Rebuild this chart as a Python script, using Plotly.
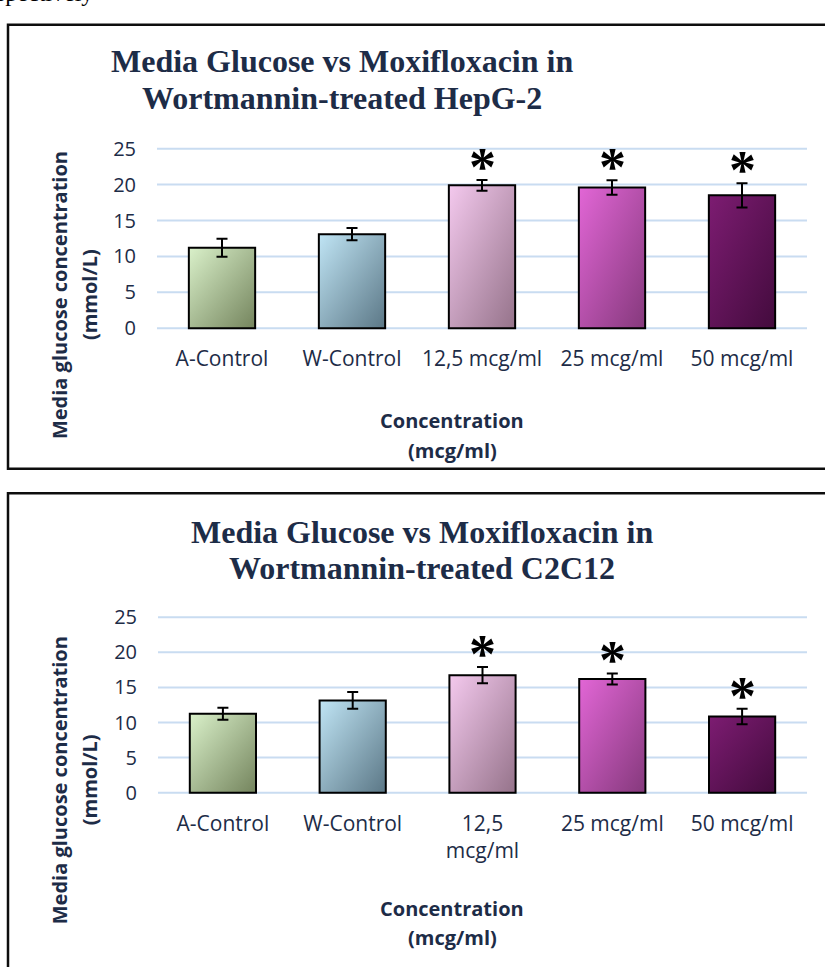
import base64
import plotly.graph_objects as go

# ---- data -----------------------------------------------------------------
categories = ["A-Control", "W-Control", "12,5 mcg/ml", "25 mcg/ml", "50 mcg/ml"]
tick_labels_hepg2 = ["A-Control", "W-Control", "12,5 mcg/ml", "25 mcg/ml", "50 mcg/ml"]
tick_labels_c2c12 = ["A-Control", "W-Control", "12,5<br>mcg/ml", "25 mcg/ml", "50 mcg/ml"]

glucose_hepg2 = [11.2, 13.1, 19.9, 19.6, 18.5]
error_hepg2 = [1.25, 0.85, 0.75, 1.0, 1.7]

glucose_c2c12 = [11.25, 13.15, 16.75, 16.2, 10.85]
error_c2c12 = [0.85, 1.2, 1.15, 0.8, 1.1]

significance_hepg2 = ["", "", "*", "*", "*"]
significance_c2c12 = ["", "", "*", "*", "*"]

y_ticks = [0, 5, 10, 15, 20, 25]

# ---- style ----------------------------------------------------------------
W, H = 825, 967
NAVY = "#1d2c47"
GRID = "#c9dcf1"
BAR_WIDTH = 0.51
Y_RANGE = [-0.3, 25.3]

# (light top-left, dark bottom-right) gradient stops per category
gradients = [
    ("#daf1ca", "#74845d"),
    ("#c0e5f5", "#5b7786"),
    ("#f4c9ee", "#95738a"),
    ("#e266d6", "#85397c"),
    ("#7d1c72", "#430b3d"),
]


def px_x(p):
    return p / W


def px_y(p):
    return 1 - p / H


def gradient_svg(c1, c2):
    svg = (
        '<svg xmlns="http://www.w3.org/2000/svg" width="100" height="100" '
        'viewBox="0 0 100 100" preserveAspectRatio="none">'
        '<defs><linearGradient id="g" x1="0" y1="0" x2="1" y2="1">'
        f'<stop offset="0" stop-color="{c1}"/><stop offset="1" stop-color="{c2}"/>'
        '</linearGradient></defs>'
        '<rect x="0" y="0" width="100" height="100" fill="url(#g)"/></svg>'
    )
    return "data:image/svg+xml;base64," + base64.b64encode(svg.encode()).decode()


def y_domain(zero_px, top_px):
    per_unit = (zero_px - top_px) / 25.0
    bottom = zero_px - Y_RANGE[0] * per_unit
    top = zero_px - Y_RANGE[1] * per_unit
    return [px_y(bottom), px_y(top)]


fig = go.Figure()

panels = [
    dict(ax="", values=glucose_hepg2, errors=error_hepg2, ticks=tick_labels_hepg2,
         stars=significance_hepg2, xdom=[px_x(157), px_x(807)], ydom=y_domain(324, 140),
         title=["Media Glucose vs Moxifloxacin in", "Wortmannin-treated HepG-2"],
         title_x=342, title_y=[50, 88], box=[8, 13, 830, 468],
         xt_y=[418, 449], yt_y=290),
    dict(ax="2", values=glucose_c2c12, errors=error_c2c12, ticks=tick_labels_c2c12,
         stars=significance_c2c12, xdom=[px_x(158), px_x(807)], ydom=y_domain(799.7, 620),
         title=["Media Glucose vs Moxifloxacin in", "Wortmannin-treated C2C12"],
         title_x=422, title_y=[533, 570], box=[8, 493, 830, 980],
         xt_y=[918, 948], yt_y=787),
]

positions = list(range(len(categories)))
shapes, images, annotations = [], [], []

for p in panels:
    xa, ya = "x" + p["ax"], "y" + p["ax"]

    # bars: outline + error bars, gradient fill comes from images underneath
    fig.add_trace(go.Bar(
        x=positions, y=p["values"], width=BAR_WIDTH, xaxis=xa, yaxis=ya,
        marker=dict(color="rgba(0,0,0,0)", line=dict(color="#000000", width=2)),
        error_y=dict(type="data", array=p["errors"], color="#000000", thickness=2, width=5.5),
        showlegend=False, hoverinfo="skip",
    ))

    for i, v in enumerate(p["values"]):
        c1, c2 = gradients[i]
        images.append(dict(
            source=gradient_svg(c1, c2), xref=xa, yref=ya,
            x=positions[i] - BAR_WIDTH / 2, y=v, sizex=BAR_WIDTH, sizey=v,
            xanchor="left", yanchor="top", sizing="stretch", layer="below",
        ))
        if p["stars"][i]:
            annotations.append(dict(
                x=positions[i], y=v + p["errors"][i], xref=xa, yref=ya,
                text=f"<b>{p['stars'][i]}</b>", showarrow=False, yanchor="middle", yshift=13,
                font=dict(family="Liberation Serif", size=54, color="#000000"),
            ))

    # horizontal gridlines
    for t in y_ticks:
        shapes.append(dict(
            type="line", xref=xa + " domain", yref=ya, x0=0, x1=1, y0=t, y1=t,
            line=dict(color=GRID, width=2), layer="below",
        ))

    # panel frame
    bx0, by0, bx1, by1 = p["box"]
    shapes.append(dict(
        type="rect", xref="paper", yref="paper",
        x0=px_x(bx0), x1=px_x(bx1), y0=px_y(by1), y1=px_y(by0),
        line=dict(color="#0d0d0d", width=2.5), layer="above",
    ))

    # chart title
    for line, ty in zip(p["title"], p["title_y"]):
        annotations.append(dict(
            x=px_x(p["title_x"]), y=px_y(ty), xref="paper", yref="paper",
            text=f"<b>{line}</b>", showarrow=False, xanchor="center", yanchor="middle",
            font=dict(family="Liberation Serif", size=32, color=NAVY),
        ))

    # x-axis title
    for line, ty in zip(["Concentration", "(mcg/ml)"], p["xt_y"]):
        annotations.append(dict(
            x=px_x(452), y=px_y(ty), xref="paper", yref="paper",
            text=f"<b>{line}</b>", showarrow=False, xanchor="center", yanchor="middle",
            font=dict(family="Open Sans", size=20, color=NAVY),
        ))

    # y-axis title
    for line, tx in zip(["Media glucose concentration", "(mmol/L)"], [59, 89]):
        annotations.append(dict(
            x=px_x(tx), y=px_y(p["yt_y"]), xref="paper", yref="paper",
            text=f"<b>{line}</b>", showarrow=False, textangle=-90,
            xanchor="center", yanchor="middle",
            font=dict(family="Open Sans", size=20, color=NAVY),
        ))

    fig.update_layout(**{
        "xaxis" + p["ax"]: dict(
            domain=p["xdom"], anchor=ya, range=[-0.5, 4.5],
            tickvals=positions, ticktext=p["ticks"], showgrid=False, zeroline=False,
            showline=False, ticks="", ticklabelstandoff=14,
            tickfont=dict(family="Open Sans", size=21, color=NAVY),
        ),
        "yaxis" + p["ax"]: dict(
            domain=p["ydom"], anchor=xa, range=Y_RANGE,
            tickvals=y_ticks, showgrid=False, zeroline=False, showline=False,
            ticks="", ticklabelstandoff=20,
            tickfont=dict(family="Open Sans", size=20, color=NAVY),
        ),
    })

# tail of the preceding paragraph, cut off by the page top
annotations.append(dict(
    x=px_x(-6), y=px_y(-19), xref="paper", yref="paper", text="spectively",
    showarrow=False, xanchor="left", yanchor="middle",
    font=dict(family="Liberation Serif", size=24, color="#000000"),
))

fig.update_layout(
    width=W, height=H, margin=dict(l=0, r=0, t=0, b=0),
    paper_bgcolor="white", plot_bgcolor="rgba(0,0,0,0)",
    shapes=shapes, images=images, annotations=annotations,
    bargap=0.49,
)

fig.write_html("out.html")
